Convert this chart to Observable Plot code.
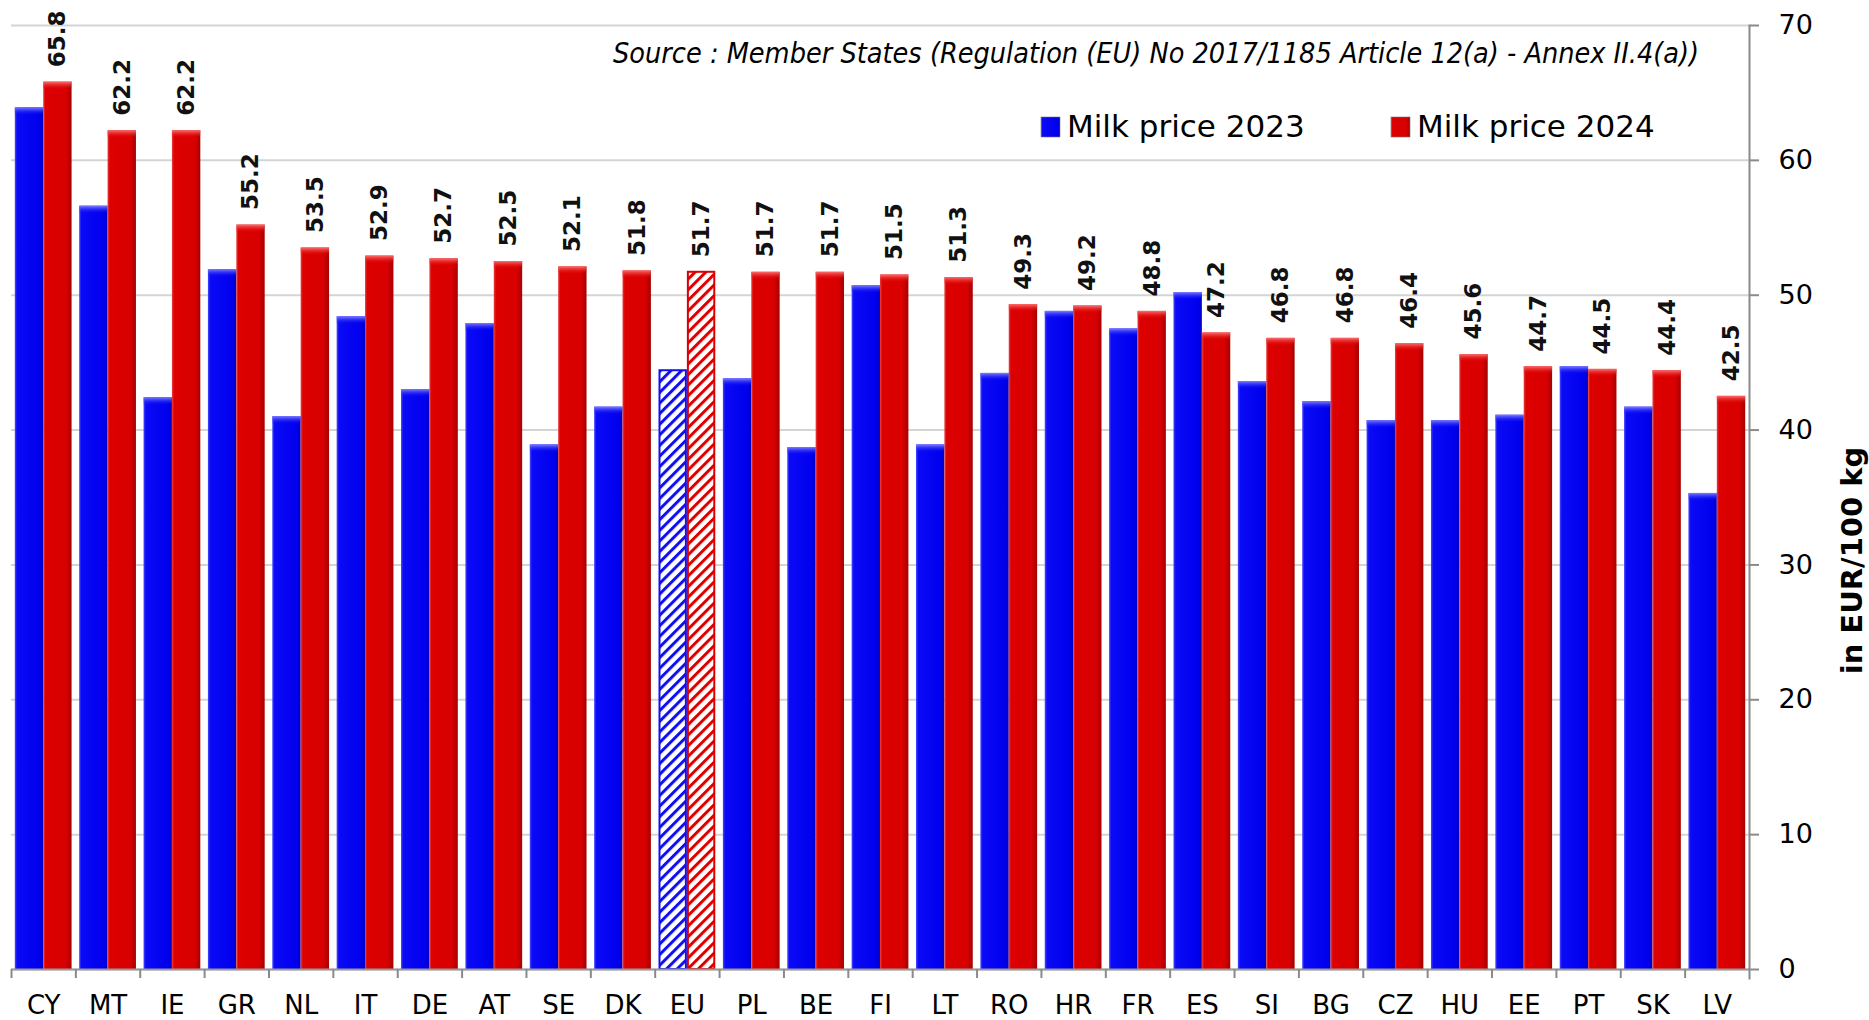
<!DOCTYPE html>
<html>
<head>
<meta charset="utf-8">
<script src="https://cdn.jsdelivr.net/npm/d3@7"></script>
<script src="https://cdn.jsdelivr.net/npm/@observablehq/plot@0.6"></script>
<style>
  html, body { margin: 0; padding: 0; background: #fff; }
  #chart { position: relative; width: 1869px; height: 1020px; }
</style>
</head>
<body>
<svg width="0" height="0" style="position:absolute">
  <defs>
    <linearGradient id="gradBlue" x1="0" x2="1" y1="0" y2="0">
      <stop offset="0%" stop-color="#4a4aff"/>
      <stop offset="8%" stop-color="#0a0af6"/>
      <stop offset="85%" stop-color="#0000ee"/>
      <stop offset="100%" stop-color="#0000c4"/>
    </linearGradient>
    <linearGradient id="gradRed" x1="0" x2="1" y1="0" y2="0">
      <stop offset="0%" stop-color="#e84040"/>
      <stop offset="8%" stop-color="#dd0000"/>
      <stop offset="80%" stop-color="#d80000"/>
      <stop offset="100%" stop-color="#a60000"/>
    </linearGradient>
    <linearGradient id="bevelBlue" x1="0" x2="0" y1="0" y2="1">
      <stop offset="0%" stop-color="#8080ff"/>
      <stop offset="100%" stop-color="#0a0af6" stop-opacity="0"/>
    </linearGradient>
    <linearGradient id="bevelRed" x1="0" x2="0" y1="0" y2="1">
      <stop offset="0%" stop-color="#ff7070"/>
      <stop offset="100%" stop-color="#dd0000" stop-opacity="0"/>
    </linearGradient>
    <pattern id="hatchBlue" patternUnits="userSpaceOnUse" width="7.5" height="7.5" patternTransform="rotate(45)">
      <rect width="7.5" height="7.5" fill="#fff"/>
      <rect width="3" height="7.5" fill="#1010ee"/>
    </pattern>
    <pattern id="hatchRed" patternUnits="userSpaceOnUse" width="7.5" height="7.5" patternTransform="rotate(45)">
      <rect width="7.5" height="7.5" fill="#fff"/>
      <rect width="3" height="7.5" fill="#dd0000"/>
    </pattern>
  </defs>
</svg>
<div id="chart"></div>
<script>
const countries = ["CY","MT","IE","GR","NL","IT","DE","AT","SE","DK","EU","PL","BE","FI","LT","RO","HR","FR","ES","SI","BG","CZ","HU","EE","PT","SK","LV"];
const price2023 = [63.9,56.6,42.4,51.9,41.0,48.4,43.0,47.9,38.9,41.7,44.4,43.8,38.7,50.7,38.9,44.2,48.8,47.5,50.2,43.6,42.1,40.7,40.7,41.1,44.7,41.7,35.3];
const price2024 = [65.8,62.2,62.2,55.2,53.5,52.9,52.7,52.5,52.1,51.8,51.7,51.7,51.7,51.5,51.3,49.3,49.2,48.8,47.2,46.8,46.8,46.4,45.6,44.7,44.5,44.4,42.5];
const yTicks = [0,10,20,30,40,50,60,70];
const seriesNames = ["Milk price 2023", "Milk price 2024"];
const sourceText = "Source : Member States (Regulation (EU) No 2017/1185 Article 12(a) - Annex II.4(a))";
const yLabel = "in EUR/100 kg";

const d23 = countries.map((c, i) => ({country: c, v: price2023[i]}));
const d24 = countries.map((c, i) => ({country: c, v: price2024[i]}));
const isEU = d => d.country === "EU";
const notEU = d => d.country !== "EU";

const W = 1869, H = 1020, mL = 11, mR = 120, mT = 25, mB = 51;
const half = (W - mL - mR) / countries.length / 2;
const pad = 3.8;
const barW = half - pad;

const chart = Plot.plot({
  width: W, height: H,
  marginLeft: mL, marginRight: mR, marginTop: mT, marginBottom: mB,
  style: {fontFamily: "DejaVu Sans", fontSize: "26px", background: "#fff", color: "#000"},
  x: {domain: countries, padding: 0, round: false, label: null},
  y: {domain: [0, 70], label: null},
  marks: [
    Plot.gridY(yTicks, {stroke: "#d4d4d4", strokeOpacity: 1, strokeWidth: 2}),
    Plot.barY(d23.filter(notEU), {x: "country", y: "v", fill: "url(#gradBlue)", insetLeft: pad, insetRight: half}),
    Plot.barY(d24.filter(notEU), {x: "country", y: "v", fill: "url(#gradRed)", insetLeft: half, insetRight: pad}),
    Plot.barY(d23.filter(notEU), {x: "country", y1: "v", y2: "v", insetBottom: -8, fill: "url(#bevelBlue)", insetLeft: pad, insetRight: half}),
    Plot.barY(d24.filter(notEU), {x: "country", y1: "v", y2: "v", insetBottom: -8, fill: "url(#bevelRed)", insetLeft: half, insetRight: pad}),
    Plot.barY(d23.filter(isEU), {x: "country", y: "v", fill: "url(#hatchBlue)", stroke: "#1010ee", strokeWidth: 2, insetLeft: pad + 1, insetRight: half + 1}),
    Plot.barY(d24.filter(isEU), {x: "country", y: "v", fill: "url(#hatchRed)", stroke: "#dd0000", strokeWidth: 2, insetLeft: half + 1, insetRight: pad + 1}),
    Plot.ruleY([0], {stroke: "#9a9a9a", strokeWidth: 2}),
    Plot.frame({anchor: "right", stroke: "#8a8a8a", strokeWidth: 2, insetBottom: -9}),
    Plot.axisY({anchor: "right", ticks: yTicks, tickSize: 9, tickPadding: 20, fontSize: 27, stroke: "#8a8a8a", strokeWidth: 2, label: null}),
    Plot.axisX({tickSize: 9, tickFormat: () => "", dx: -half, stroke: "#8a8a8a", strokeWidth: 2, label: null}),
    Plot.axisX({tickSize: 0, tickPadding: 26, fontSize: 26, label: null}),
    Plot.text(d24, {x: "country", y: "v", text: d => d.v.toFixed(1), rotate: -90, textAnchor: "start", lineAnchor: "middle", dx: half - pad - barW / 2, dy: -15, fontWeight: "bold", fontSize: 23, fill: "#111"}),
    Plot.text([yLabel], {frameAnchor: "right", rotate: -90, textAnchor: "middle", lineAnchor: "middle", dx: 103, dy: 63, fontWeight: "bold", fontSize: 29, fill: "#000"})
  ]
});

document.getElementById("chart").appendChild(chart);

// source note and legend inside the plot area
const svg = d3.select(chart);
svg.append("text")
  .attr("x", 1699).attr("y", 63)
  .attr("text-anchor", "end")
  .attr("font-family", "'Liberation Sans Narrow', 'DejaVu Sans Condensed', sans-serif")
  .attr("font-style", "italic")
  .attr("font-size", 28)
  .attr("textLength", 1086)
  .attr("lengthAdjust", "spacingAndGlyphs")
  .attr("fill", "#000")
  .text(sourceText);

const legendItems = [
  {name: seriesNames[0], fill: "url(#gradBlue)", x: 1041},
  {name: seriesNames[1], fill: "url(#gradRed)", x: 1391}
];
const lg = svg.append("g").attr("text-anchor", "start");
legendItems.forEach(it => {
  lg.append("rect").attr("x", it.x).attr("y", 117).attr("width", 19).attr("height", 20)
    .attr("fill", it.fill).attr("stroke", "#777").attr("stroke-width", 0.6);
  lg.append("text").attr("x", it.x + 26).attr("y", 137)
    .attr("text-anchor", "start")
    .attr("font-family", "DejaVu Sans").attr("font-size", 31).attr("fill", "#000")
    .text(it.name);
});
</script>
</body>
</html>
